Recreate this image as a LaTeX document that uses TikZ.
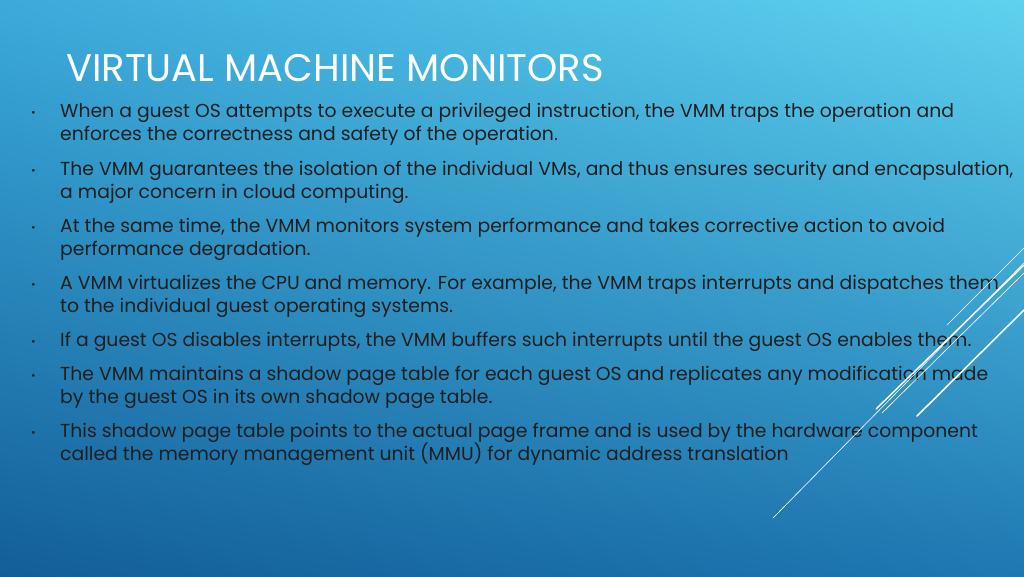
\documentclass[tikz,border=0pt]{standalone}
\usepackage{fontspec}
\usetikzlibrary{shadings}
\setmainfont{Poppins}
\begin{document}
\begin{tikzpicture}[x=1pt,y=-1pt,
  btxt/.style={anchor=base west,inner sep=0pt,font=\fontsize{18.8}{20}\selectfont,text=black!88},
  bul/.style={anchor=base west,inner sep=0pt,font=\fontsize{11}{12}\selectfont,text=black!88},
  deco/.style={draw=white,line cap=round}]
\definecolor{tr}{HTML}{5FD2EF}\definecolor{bl}{HTML}{135E98}\definecolor{tl}{HTML}{3BAADB}\definecolor{br}{HTML}{1E78B2}
\fill[tl] (0,0) rectangle (1024,576);
\shade[upper right=tr,upper left=tl,lower left=bl,lower right=br] (0,0) rectangle (1024,576);
\useasboundingbox (0,0) rectangle (1024,576);
\node[anchor=base west,inner sep=0pt,font=\fontsize{38.5}{40}\selectfont,text=white] (title) at (66,81) {VIRTUAL MACHINE MONITORS};
\foreach \y/\t [count=\i] in {
 117/{When a guest OS attempts to execute a privileged instruction, the VMM traps the operation and},
 140/{enforces the correctness and safety of the operation.},
 175/{The VMM guarantees the isolation of the individual VMs, and thus ensures security and encapsulation,},
 198/{a major concern in cloud computing.},
 232/{At the same time, the VMM monitors system performance and takes corrective action to avoid},
 255/{performance degradation.},
 289/{A VMM virtualizes the CPU and memory. For example, the VMM traps interrupts and dispatches them},
 312/{to the individual guest operating systems.},
 346/{If a guest OS disables interrupts, the VMM buffers such interrupts until the guest OS enables them.},
 380/{The VMM maintains a shadow page table for each guest OS and replicates any modification made},
 403/{by the guest OS in its own shadow page table.},
 437/{This shadow page table points to the actual page frame and is used by the hardware component},
 460/{called the memory management unit (MMU) for dynamic address translation}}
 \node[btxt] (l\i) at (60,\y) {\t};
\foreach \y [count=\i] in {116,174,231,288,345,379,436}
 \node[bul] (b\i) at (31,\y) {•};
\coordinate (p1) at (1024,248); \coordinate (q1) at (947,325);
\coordinate (p2) at (1024,263); \coordinate (q2) at (773,518);
\coordinate (p3) at (1024,265); \coordinate (q3) at (876,409);
\coordinate (p4) at (1024,273); \coordinate (q4) at (882,413);
\coordinate (p5) at (1024,310); \coordinate (q5) at (917,416);
\draw[deco,line width=0.6pt] (p1)--(q1);
\draw[deco,line width=0.6pt] (p2)--(q2);
\draw[deco,line width=1.4pt] (p3)--(q3);
\draw[deco,line width=0.6pt] (p4)--(q4);
\draw[deco,line width=1.6pt] (p5)--(q5);
\end{tikzpicture}
\end{document}
